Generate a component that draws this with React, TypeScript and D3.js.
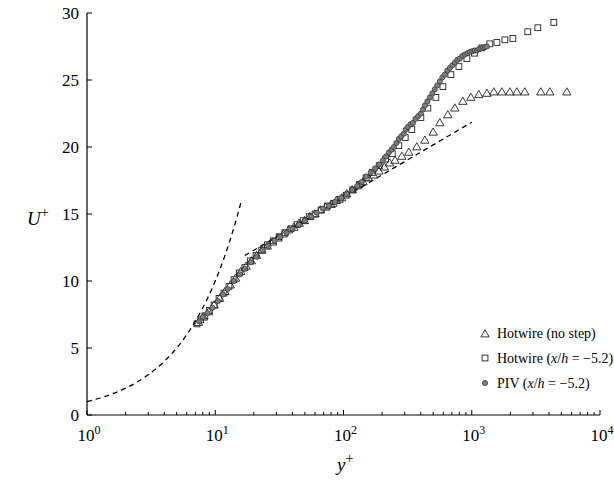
import React from "react";
import * as d3 from "d3";

// ---- data ----
const noStepY = [7.4, 8.1, 8.9, 9.8, 10.8, 11.9, 13.1, 14.4, 15.8, 17.4, 19.1, 21, 23.1, 25.4, 28, 30.8, 33.9, 37.3, 41, 45.1, 49.6, 54.6, 60, 66, 72.6, 79.9, 87.9, 96.7, 106, 117, 129, 142, 156, 172, 189, 208, 229, 252, 285, 323, 373, 431, 500, 564, 651, 738, 852, 984, 1135, 1312, 1487, 1717, 1982, 2248, 2594, 3456, 4062, 5510];
const noStepU = [6.9, 7.3, 7.7, 8.2, 8.7, 9.2, 9.7, 10.2, 10.7, 11.1, 11.5, 11.9, 12.3, 12.6, 12.9, 13.2, 13.5, 13.8, 14.0, 14.3, 14.5, 14.8, 15.0, 15.3, 15.5, 15.7, 16.0, 16.2, 16.5, 16.8, 17.1, 17.4, 17.7, 17.9, 18.2, 18.5, 18.8, 19.0, 19.3, 19.6, 20.0, 20.5, 21.1, 21.8, 22.4, 22.9, 23.4, 23.7, 23.9, 24.0, 24.1, 24.1, 24.1, 24.1, 24.1, 24.1, 24.1, 24.1];

const stepY = [7.2, 7.7, 8.3, 9.0, 9.8, 10.7, 11.7, 12.8, 14, 15.4, 17, 18.8, 20.8, 23, 25.5, 28.3, 31.5, 35, 39, 43.5, 48.5, 54, 60, 67, 75, 84, 94, 105, 118, 133, 150, 168, 190, 213, 240, 270, 303, 341, 401, 455, 525, 596, 687, 794, 916, 1050, 1197, 1383, 1570, 1812, 2091, 2735, 3273, 4365];
const stepU = [6.8, 7.1, 7.4, 7.8, 8.2, 8.7, 9.1, 9.6, 10.1, 10.6, 11.0, 11.5, 11.9, 12.3, 12.7, 13.0, 13.3, 13.6, 13.9, 14.2, 14.5, 14.8, 15.0, 15.3, 15.6, 15.8, 16.1, 16.4, 16.8, 17.2, 17.7, 18.1, 18.6, 19.1, 19.5, 20.1, 20.7, 21.3, 22.2, 22.9, 23.7, 24.5, 25.4, 26.0, 26.6, 27.0, 27.4, 27.7, 27.8, 28.0, 28.1, 28.6, 28.9, 29.3];

const pivY = [7.5, 8, 8.7, 9.5, 10.5, 11.5, 12.5, 14, 15.5, 17, 19, 21, 23.5, 26, 29, 32, 36, 40, 45, 50, 56, 62, 69, 77, 86, 96, 106, 117, 128, 139, 150, 163, 176, 189, 203, 215, 226, 237, 247, 258, 270, 282, 295, 306, 318, 333, 348, 364, 382, 401, 416, 431, 451, 471, 493, 515, 539, 564, 590, 617, 645, 675, 706, 738, 772, 808, 845, 884, 924, 967, 1010, 1053, 1096, 1138, 1180, 1222, 1266, 1312];
const pivU = [7.0, 7.3, 7.6, 8.0, 8.5, 9.0, 9.4, 10.0, 10.5, 10.9, 11.4, 11.8, 12.3, 12.6, 13.0, 13.3, 13.6, 13.9, 14.2, 14.5, 14.8, 15.1, 15.4, 15.6, 15.9, 16.2, 16.5, 16.8, 17.1, 17.4, 17.8, 18.1, 18.4, 18.7, 19.0, 19.3, 19.6, 19.8, 20.0, 20.3, 20.6, 20.8, 21.0, 21.3, 21.5, 21.7, 21.8, 22.1, 22.3, 22.5, 22.8, 23.1, 23.4, 23.7, 24.0, 24.3, 24.6, 24.9, 25.2, 25.4, 25.7, 25.9, 26.1, 26.3, 26.5, 26.6, 26.8, 26.9, 27.0, 27.1, 27.15, 27.2, 27.2, 27.3, 27.35, 27.4, 27.45, 27.5];

// reference lines
const viscousY = [1, 1.25, 1.5, 2, 2.5, 3, 4, 5, 6, 7, 8, 10, 12, 14, 16];
const viscousU = [1, 1.25, 1.5, 2, 2.5, 3, 4, 5, 6, 7, 8, 10, 12, 14, 16];
const logLawY = [17, 1000];
const logLawU = [11.9, 21.85];

const yTicks = [0, 5, 10, 15, 20, 25, 30];
const xDecades = [0, 1, 2, 3, 4];

const legendLabels = ["Hotwire (no step)", "Hotwire", "PIV"];

const W = 614, H = 485;
const x = d3.scaleLog().domain([1, 1e4]).range([87, 600]);
const y = d3.scaleLinear().domain([0, 30]).range([415, 13]);

const FONT = "'Liberation Serif', 'Times New Roman', serif";

const triPath = (cx: number, cy: number) =>
  `M${cx},${cy - 4.3}L${cx + 4.2},${cy + 2.9}L${cx - 4.2},${cy + 2.9}Z`;

export default function App() {
  const line = d3
    .line<[number, number]>()
    .x((d) => x(d[0]))
    .y((d) => y(d[1]))
    .curve(d3.curveMonotoneX);

  const viscous: [number, number][] = viscousY.map((v, i) => [v, viscousU[i]]);
  const logLaw: [number, number][] = logLawY.map((v, i) => [v, logLawU[i]]);

  const minorTicks: number[] = [];
  for (let d = 0; d < 4; d++) for (let k = 2; k <= 9; k++) minorTicks.push(k * Math.pow(10, d));

  const axisY = y(0);
  const axisX = x(1);

  const mathSuffix = (
    <>
      {" ("}
      <tspan fontStyle="italic">x</tspan>
      {"/"}
      <tspan fontStyle="italic">h</tspan>
      {" = \u22125.2)"}
    </>
  );

  return (
    <svg
      width={W}
      height={H}
      style={{ position: "absolute", left: 0, top: 0, background: "#fff" }}
      fontFamily={FONT}
    >
      <rect width={W} height={H} fill="#fff" />
      {/* reference lines */}
      <path d={line(viscous) || ""} fill="none" stroke="#000" strokeWidth={1.3} strokeDasharray="5,4" />
      <path d={line(logLaw) || ""} fill="none" stroke="#000" strokeWidth={1.3} strokeDasharray="5,4" />

      {/* triangles */}
      <g fill="none" stroke="#222" strokeWidth={0.9}>
        {noStepY.map((v, i) => (
          <path key={i} d={triPath(x(v), y(noStepU[i]))} />
        ))}
      </g>
      {/* squares */}
      <g fill="none" stroke="#222" strokeWidth={0.9}>
        {stepY.map((v, i) => (
          <rect key={i} x={x(v) - 2.9} y={y(stepU[i]) - 2.9} width={5.8} height={5.8} />
        ))}
      </g>
      {/* PIV circles */}
      <g fill="#7d7d7d" stroke="#333" strokeWidth={0.7}>
        {pivY.map((v, i) => (
          <circle key={i} cx={x(v)} cy={y(pivU[i])} r={2.6} />
        ))}
      </g>

      {/* axes */}
      <line x1={axisX} x2={axisX} y1={y(30)} y2={axisY} stroke="#000" strokeWidth={1.2} />
      <line x1={axisX} x2={x(1e4)} y1={axisY} y2={axisY} stroke="#000" strokeWidth={1.2} />
      {yTicks.map((t) => (
        <g key={t}>
          <line x1={axisX} x2={axisX + 5} y1={y(t)} y2={y(t)} stroke="#000" strokeWidth={1} />
          <text x={axisX - 8} y={y(t) + 6} textAnchor="end" fontSize={17}>
            {t}
          </text>
        </g>
      ))}
      {xDecades.map((d) => (
        <g key={d}>
          <line x1={x(Math.pow(10, d))} x2={x(Math.pow(10, d))} y1={axisY} y2={axisY - 5} stroke="#000" strokeWidth={1} />
          <text x={x(Math.pow(10, d)) + 2} y={441} textAnchor="middle" fontSize={17}>
            10
            <tspan dy={-7} fontSize={12}>
              {d}
            </tspan>
          </text>
        </g>
      ))}
      {minorTicks.map((m) => (
        <line key={m} x1={x(m)} x2={x(m)} y1={axisY} y2={axisY - 3} stroke="#000" strokeWidth={1} />
      ))}

      {/* axis titles */}
      <text x={27} y={225} fontSize={19}>
        <tspan fontStyle="italic">U</tspan>
        <tspan dy={-8} fontSize={14}>+</tspan>
      </text>
      <text x={337} y={471} fontSize={19}>
        <tspan fontStyle="italic">y</tspan>
        <tspan dy={-8} fontSize={14}>+</tspan>
      </text>

      {/* legend */}
      <g fontSize={14}>
        <path d={triPath(485, 334)} fill="none" stroke="#222" strokeWidth={0.9} />
        <text x={497} y={338}>{legendLabels[0]}</text>
        <rect x={482.1} y={355.1} width={5.8} height={5.8} fill="none" stroke="#222" strokeWidth={0.9} />
        <text x={497} y={363}>
          {legendLabels[1]}
          {mathSuffix}
        </text>
        <circle cx={485} cy={383} r={2.6} fill="#7d7d7d" stroke="#333" strokeWidth={0.7} />
        <text x={497} y={388}>
          {legendLabels[2]}
          {mathSuffix}
        </text>
      </g>
    </svg>
  );
}
